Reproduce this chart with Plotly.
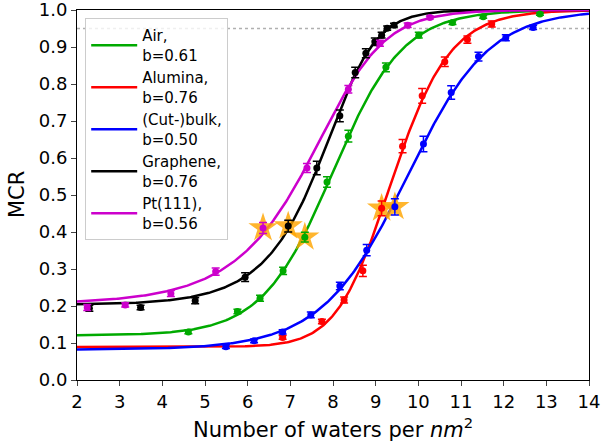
import numpy as np
import plotly.graph_objects as go

names = ["Air,<br>b=0.61", "Alumina,<br>b=0.76", "(Cut-)bulk,<br>b=0.50", "Graphene,<br>b=0.76", "Pt(111),<br>b=0.56"]
colors = ["#00aa00", "#ff0000", "#0000ff", "#000000", "#cc00cc"]

x_ticks = list(range(2, 15))
y_ticks = [i / 10 for i in range(11)]

air_x = [4.61, 5.76, 6.29, 6.83, 7.34, 7.86, 8.36, 9.24, 10.01, 10.80, 11.52, 12.85]
air_y = [0.130, 0.185, 0.221, 0.295, 0.386, 0.535, 0.659, 0.845, 0.932, 0.966, 0.982, 0.989]
air_e = [0.005, 0.006, 0.008, 0.010, 0.013, 0.014, 0.016, 0.012, 0.008, 0.005, 0.004, 0.003]

alu_x = [6.82, 7.74, 8.26, 8.70, 9.14, 9.63, 10.09, 10.62, 11.15, 11.72]
alu_y = [0.115, 0.158, 0.216, 0.295, 0.464, 0.632, 0.768, 0.860, 0.920, 0.962]
alu_e = [0.005, 0.006, 0.008, 0.015, 0.020, 0.018, 0.020, 0.013, 0.010, 0.008]

blk_x = [5.49, 6.15, 6.82, 7.48, 8.16, 8.79, 9.45, 10.12, 10.77, 11.41, 12.05, 12.69]
blk_y = [0.090, 0.106, 0.130, 0.176, 0.254, 0.351, 0.468, 0.638, 0.777, 0.874, 0.925, 0.953]
blk_e = [0.005, 0.005, 0.006, 0.008, 0.010, 0.015, 0.022, 0.021, 0.018, 0.012, 0.008, 0.006]

gra_x = [2.29, 3.49, 4.77, 5.94, 6.95, 7.62, 8.16, 8.52, 8.77, 8.98, 9.14, 9.27, 9.43]
gra_y = [0.194, 0.196, 0.214, 0.278, 0.416, 0.573, 0.714, 0.831, 0.883, 0.914, 0.932, 0.951, 0.959]
gra_e = [0.008, 0.006, 0.008, 0.012, 0.016, 0.018, 0.016, 0.014, 0.012, 0.010, 0.008, 0.006, 0.005]

pt_x = [2.24, 3.13, 4.20, 5.25, 6.36, 7.39, 8.36, 9.10, 9.75, 10.27]
pt_y = [0.196, 0.203, 0.234, 0.293, 0.411, 0.573, 0.786, 0.910, 0.959, 0.980]
pt_e = [0.008, 0.006, 0.008, 0.010, 0.015, 0.012, 0.010, 0.008, 0.006, 0.004]

star_x = [6.36, 6.95, 7.34, 9.14, 9.45]
star_y = [0.411, 0.416, 0.386, 0.464, 0.468]

# fitted sigmoid parameters (Air, Alumina, bulk, Graphene, Pt)
fit_a = [0.120, 0.089, 0.082, 0.203, 0.206]
fit_k = [1.22, 1.36, 1.06, 1.94, 1.40]
fit_x0 = [8.01, 9.03, 9.87, 8.26, 8.13]
fit_m = [0.98, 1.46, 0.88, 0.52, 0.56]
ref_level = 0.95

series = [(air_x, air_y, air_e), (alu_x, alu_y, alu_e), (blk_x, blk_y, blk_e),
          (gra_x, gra_y, gra_e), (pt_x, pt_y, pt_e)]


def richards(x, a, k, x0, m):
    return a + (1 - a) * (1 + np.exp(-k * (x - x0))) ** (-m)


xs = np.linspace(2, 14, 400)
fig = go.Figure()
for i, (nm, c) in enumerate(zip(names, colors)):
    fig.add_trace(go.Scatter(x=xs, y=richards(xs, fit_a[i], fit_k[i], fit_x0[i], fit_m[i]),
                             mode="lines", name=nm, line=dict(color=c, width=2.5)))
fig.add_trace(go.Scatter(x=star_x, y=star_y, mode="markers", showlegend=False,
                         marker=dict(symbol="star", size=22, color="rgba(255,165,0,0.82)",
                                     line=dict(width=0))))
for (sx, sy, se), c in zip(series, colors):
    fig.add_trace(go.Scatter(x=sx, y=sy, mode="markers", showlegend=False,
                             marker=dict(color=c, size=7),
                             error_y=dict(type="data", array=se, color=c, thickness=1.5, width=4)))

fig.add_shape(type="line", xref="paper", x0=0, x1=1, yref="y", y0=ref_level, y1=ref_level,
              line=dict(color="#b0b0b0", width=1.5, dash="dot"), layer="below")

font = "DejaVu Sans"
fig.add_annotation(text="Number of waters per <i>nm</i><sup>2</sup>", xref="paper", yref="paper",
                   x=0.5, y=-0.13, xanchor="center", yanchor="middle", showarrow=False,
                   font=dict(family=font, size=21, color="black"))
fig.add_annotation(text="MCR", xref="paper", yref="paper", x=-0.117, y=0.5, textangle=-90,
                   xanchor="center", yanchor="middle", showarrow=False,
                   font=dict(family=font, size=21, color="black"))

fig.update_layout(
    width=603, height=447, margin=dict(l=77, r=14, t=10, b=67, autoexpand=False),
    paper_bgcolor="white", plot_bgcolor="white",
    font=dict(family=font, size=18, color="black"),
    showlegend=True,
    legend=dict(x=0.016, y=0.978, xanchor="left", yanchor="top", font=dict(size=15),
                itemwidth=46,
                bgcolor="rgba(255,255,255,0.8)", bordercolor="#cccccc", borderwidth=1),
    xaxis=dict(range=[2, 14], tickmode="array", tickvals=x_ticks, ticks="outside", ticklen=5,
               showline=True, linecolor="black", linewidth=1, mirror=True, showgrid=False,
               zeroline=False, automargin=False, ticklabeloverflow="allow"),
    yaxis=dict(range=[0, 1], tickmode="array", tickvals=y_ticks, tickformat=".1f",
               ticks="outside", ticklen=5, showline=True, linecolor="black", linewidth=1,
               mirror=True, showgrid=False, zeroline=False, automargin=False,
               ticklabeloverflow="allow"),
)
fig.write_html("out.html", config={"displayModeBar": False},
               post_script="document.body.style.margin='0px';")
